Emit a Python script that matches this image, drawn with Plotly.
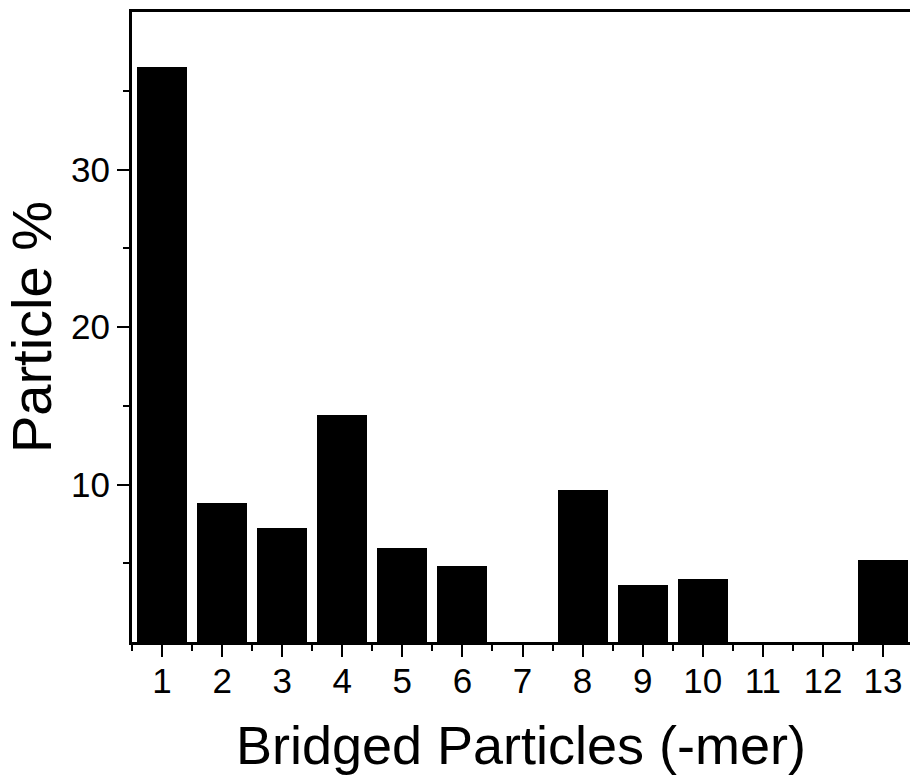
import plotly.graph_objects as go

categories = [1, 2, 3, 4, 5, 6, 7, 8, 9, 10, 11, 12, 13]
particle_pct = [36.5, 8.8, 7.25, 14.4, 6.0, 4.8, 0.0, 9.65, 3.6, 4.0, 0.0, 0.0, 5.2]
y_tickvals = [10, 20, 30]

fig = go.Figure(go.Bar(
    x=categories, y=particle_pct, width=0.83,
    marker=dict(color="black", line=dict(width=0)),
))

font = "Liberation Sans, Arial, sans-serif"
fig.update_layout(
    width=910, height=777,
    margin=dict(l=132, r=0, t=12, b=135),
    plot_bgcolor="white", paper_bgcolor="white",
    showlegend=False,
    font=dict(family=font, color="black"),
    bargap=0,
)
fig.update_xaxes(
    range=[0.5, 13.45], tickmode="array", tickvals=categories,
    ticktext=[str(c) for c in categories],
    ticks="outside", ticklen=12, tickwidth=2, tickcolor="black",
    minor=dict(tickmode="array", tickvals=[c - 0.5 for c in categories] + [13.5],
               ticks="outside", ticklen=6, tickwidth=2, tickcolor="black"),
    showline=True, linewidth=3, linecolor="black", mirror=True,
    showgrid=False, zeroline=False,
    tickfont=dict(size=35, family=font),
    ticklabelstandoff=-6,
    title=dict(text="Bridged Particles (-mer)", font=dict(size=54, family=font), standoff=28),
)
fig.update_yaxes(
    range=[0, 40], tickmode="array", tickvals=y_tickvals,
    ticks="outside", ticklen=12, tickwidth=2, tickcolor="black",
    minor=dict(tickmode="array", tickvals=[5, 15, 25, 35],
               ticks="outside", ticklen=6, tickwidth=2, tickcolor="black"),
    showline=True, linewidth=3, linecolor="black", mirror=False,
    showgrid=False, zeroline=False,
    tickfont=dict(size=35, family=font),
    title=dict(text="Particle %", font=dict(size=56, family=font), standoff=14),
)
fig.write_html("out.html", config={"displayModeBar": False},
               post_script="document.body.style.margin='0';document.body.style.overflow='hidden';")
